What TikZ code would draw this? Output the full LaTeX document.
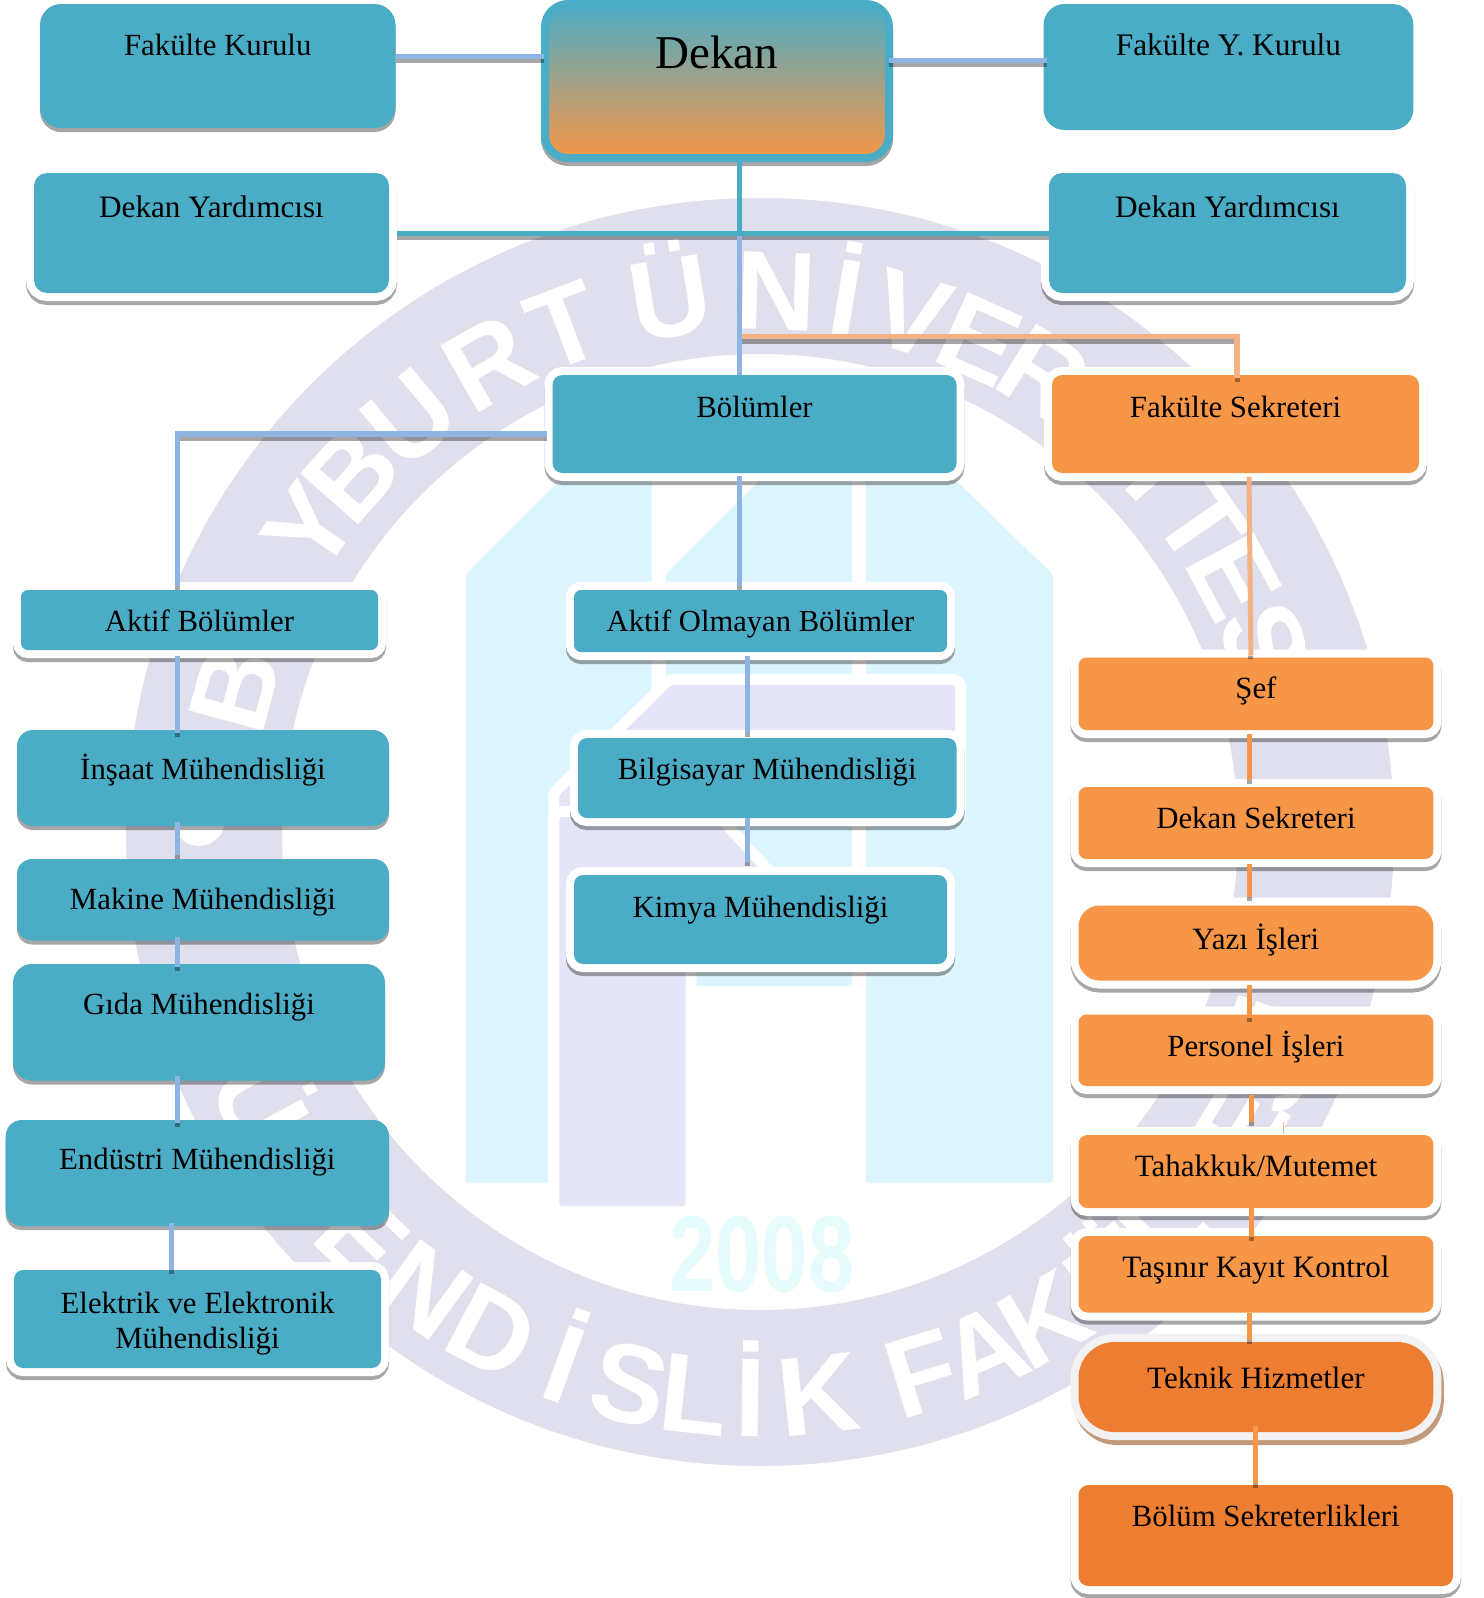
\documentclass[tikz,border=0pt]{standalone}
\usepackage{fontspec}
\usepackage{graphicx}
\setmainfont{Liberation Serif}
\newfontfamily\wmfont{Liberation Sans}[BoldFont={Liberation Sans Bold}]
\usetikzlibrary{calc}
\definecolor{tl}{HTML}{4BACC6}
\definecolor{og}{HTML}{F79646}
\definecolor{dog}{HTML}{ED7D31}
\definecolor{lnblue}{HTML}{8EB4E3}
\definecolor{lnor}{HTML}{F4B183}
\definecolor{ringc}{HTML}{E0DFEE}
\definecolor{cyanc}{HTML}{DCF5FE}
\definecolor{lavc}{HTML}{E4E5F7}
\definecolor{yearc}{HTML}{E6FBFC}
\definecolor{shbrown}{HTML}{C49A7C}
\tikzset{
  bxbase/.style={inner sep=0pt,outer sep=0pt,anchor=center,font=\fontsize{30.8}{35}\selectfont},
  plainshadow/.style={preaction={fill=black,fill opacity=.35,transform canvas={yshift=-4pt}}},
  haloshadow/.style={preaction={draw=black,draw opacity=.35,line width=16pt,transform canvas={yshift=-4pt}},preaction={draw=white,line width=16pt}},
  tealplain/.style={plainshadow,fill=tl},
  tealflat/.style={fill=tl},
  tealhalo/.style={haloshadow,fill=tl},
  orhalo/.style={haloshadow,fill=og},
  dorhalo/.style={haloshadow,fill=dog},
  teknikbox/.style={preaction={draw=shbrown,line width=16pt,transform canvas={xshift=2.5pt,yshift=-5pt}},preaction={draw=black!5,line width=16pt},fill=dog},
  dekanbox/.style={preaction={draw=black,draw opacity=.35,line width=8pt,transform canvas={yshift=-4pt}},draw=tl,line width=8pt,top color=tl,bottom color=og},
  wmletter/.style={white,font=\wmfont\bfseries\fontsize{112}{112}\selectfont,anchor=base,inner sep=0pt},
  cshadow/.style={black,opacity=.35,line width=5pt},
  cline/.style={line width=5pt}
}
\newcommand{\bx}[9]{%
  \pgfmathsetmacro\bxW{#5-#3}\pgfmathsetmacro\bxH{#6-#4}%
  \pgfmathsetmacro\bxT{#8-#4}\pgfmathsetmacro\bxD{#6-#8}%
  \pgfmathsetmacro\bxX{(#3+#5)/2}\pgfmathsetmacro\bxY{(#4+#6)/2}%
  \node[bxbase,#1,rounded corners=#7pt,minimum width=\bxW pt,minimum height=\bxH pt,text height=\bxT pt,text depth=\bxD pt] (#2) at (\bxX,\bxY) {#9};}
% colour, node A, dy at A, node B, dy at B, x
\newcommand{\vc}[6]{%
  \coordinate (cx) at (#6,0);
  \coordinate (ca) at ($(#2.south -| cx)+(0,#3)$);
  \coordinate (cb) at ($(#4.north -| cx)+(0,#5)$);
  \draw[cshadow] ($(ca)+(0,4)$) -- (cb);
  \draw[cline,#1] (ca) -- ($(cb)+(0,-4)$);}
% colour, node A, dx, dy, node B, dx, dy : horizontal link
\newcommand{\hc}[7]{%
  \coordinate (ca) at ($(#2.east)+(#3,#4)$);
  \coordinate (cb) at ($(#5.west)+(#6,#7)$);
  \draw[cshadow,line width=5.5pt] ($(ca)+(0,4.2)$) -- ($(cb)+(0,4.2)$);
  \draw[cline,line width=5.5pt,#1] (ca) -- (cb);}
\begin{document}
\begin{tikzpicture}[x=1pt,y=-1pt]
\useasboundingbox (0,0) rectangle (1483,1598);
\fill[white] (0,0) rectangle (1483,1598);
% ----- watermark: ring with lettering
\fill[ringc,even odd rule] (760,832) circle (634) circle (478);
\foreach \a/\l in {-74.6/B,-65.5/A,-55.7/Y,-48.5/B,-39.9/U,-29.7/R,-20.8/T,-9.2/Ü,2/N,9.5/İ,16.6/V,24.3/E,32/R,41/S,48/İ,55.2/T,61.8/E,69.5/S,76/İ}
  \node[wmletter,rotate=-\a] at ({757+503*sin(\a)},{833-503*cos(\a)}) {\l};
\foreach \a/\l in {-70/M,-61.5/Ü,-53/H,-44.3/E,-36/N,-27.9/D,-19.9/İ,-13/S,-6.3/L,-0.7/İ,6.2/K,17/F,23.7/A,30.6/K,39/Ü,46/L,52.5/T,59/E,65/S,70.5/İ}
  \node[wmletter,rotate=\a] at ({757+604*sin(\a)},{833+604*cos(\a)}) {\l};
\fill[white] (199,820) circle (26);
% ----- watermark: building
\fill[cyanc,rounded corners=3pt] (465.5,574.6) -- (640,400) -- (651.6,400) -- (651.6,700) -- (548,812) -- (548,1183) -- (465.5,1183) -- cycle;
\fill[cyanc,rounded corners=3pt] (665.5,574.6) -- (840,400) -- (852,400) -- (852,986) -- (665.5,986) -- cycle;
\fill[cyanc,rounded corners=3pt] (866,393) -- (1053,574.6) -- (1053,1183) -- (866,1183) -- cycle;
\fill[lavc,rounded corners=3pt,preaction={draw=white,line width=22pt}] (671.6,685) -- (955,685) -- (955,808.6) -- (559.4,808.6) -- (559.4,795) -- cycle;
\fill[lavc,rounded corners=3pt,preaction={draw=white,line width=22pt}] (559.4,817) -- (712,817) -- (765,875) -- (685.5,905) -- (685.5,1206) -- (559.4,1206) -- cycle;
\node[inner sep=0pt,text=yearc,font=\wmfont\bfseries\fontsize{108}{108}\selectfont] (year) at (762,1254) {\scalebox{.77}[1]{2008}};
% ----- boxes
\bx{tealplain}{fk}{40}{4}{395.5}{128}{21}{55}{Fakülte Kurulu}
\bx{dekanbox}{dekan}{545}{4}{889}{158}{23}{68}{\fontsize{47}{50}\selectfont Dekan}
\bx{tealflat}{fyk}{1043.5}{4}{1413.4}{130}{21}{55}{\fontsize{31.4}{35}\selectfont Fakülte Y. Kurulu}
\bx{tealhalo}{dyl}{34}{173}{389}{293}{13}{217}{\fontsize{31.2}{35}\selectfont Dekan Yardımcısı}
\bx{tealhalo}{dyr}{1049}{173}{1406}{293}{13}{217}{\fontsize{31.2}{35}\selectfont Dekan Yardımcısı}
\bx{tealhalo}{bol}{552.5}{375}{956.5}{473}{10}{417}{Bölümler}
\bx{orhalo}{fs}{1052}{375}{1419}{473}{10}{417}{Fakülte Sekreteri}
\bx{tealhalo}{ab}{21}{590}{378}{650}{7}{631}{Aktif Bölümler}
\bx{tealhalo}{ao}{574}{590}{947}{652}{7}{631}{\fontsize{30.6}{35}\selectfont Aktif Olmayan Bölümler}
\bx{tealplain}{ins}{17}{730}{389}{826}{16}{779}{İnşaat Mühendisliği}
\bx{tealplain}{mak}{17}{859}{389}{940.5}{15}{909.5}{Makine Mühendisliği}
\bx{tealplain}{gid}{13}{964}{385}{1080.5}{19}{1014}{Gıda Mühendisliği}
\bx{tealplain}{end}{5.7}{1120}{389}{1226}{16}{1169}{Endüstri Mühendisliği}
\node[bxbase,tealhalo,rounded corners=9pt,minimum width=367pt,minimum height=98pt,align=center] (ele) at (197.5,1319) {\rule{0pt}{30pt}Elektrik ve Elektronik\\Mühendisliği};
\bx{tealhalo}{bil}{578}{738}{956.5}{818}{9}{779}{Bilgisayar Mühendisliği}
\bx{tealhalo}{kim}{574}{875}{947}{964}{9}{917.7}{Kimya Mühendisliği}
\bx{orhalo}{sef}{1078.5}{657.5}{1433.3}{730}{8}{698.5}{Şef}
\bx{orhalo}{ds}{1078.5}{787}{1433.3}{859}{8}{828}{Dekan Sekreteri}
\bx{orhalo}{yaz}{1078.5}{905.5}{1433.3}{980.5}{21}{949}{\fontsize{31}{35}\selectfont Yazı İşleri}
\bx{orhalo}{per}{1078.5}{1014.5}{1433.3}{1086}{8}{1056}{Personel İşleri}
\bx{orhalo}{tah}{1078.5}{1135}{1433.3}{1208}{9}{1176}{\fontsize{31}{35}\selectfont Tahakkuk/Mutemet}
\bx{orhalo}{tas}{1078.5}{1236}{1433.3}{1312.5}{9}{1277.6}{\fontsize{31.1}{35}\selectfont Taşınır Kayıt Kontrol}
\bx{teknikbox}{tek}{1078.5}{1342}{1433.3}{1432}{36}{1388}{\fontsize{31}{35}\selectfont Teknik Hizmetler}
\bx{dorhalo}{bs}{1078.5}{1485}{1453}{1586}{10}{1526}{Bölüm Sekreterlikleri}
% ----- connectors
\hc{lnblue}{fk}{0}{-9.7}{dekan}{-1}{-24.7}
\hc{lnblue}{dekan}{-0.5}{-20.5}{fyk}{3.5}{-6.5}
\hc{tl}{dyl}{8}{0.5}{dyr}{0}{0.5}
% Dekan down to the junction, then to Bölümler
\coordinate (j1) at (739,236);
\draw[cline,tl] (dekan.south -| j1) -- (j1);
\draw[cline,lnblue] (j1) -- (bol.north -| j1);
% Orange branch
\coordinate (j2) at (742,336.7);
\coordinate (c1) at (1237,0);
\draw[cshadow,line width=5.5pt] ($(j2)+(0,4.5)$) -- ($(c1 |- j2)+(-2,4.5)$);
\draw[cshadow] ($(fs.north -| c1)+(0,0)$) -- ($(fs.north -| c1)+(0,7)$);
\draw[cline,lnor,line width=5.5pt] (j2) -- (c1 |- j2) -- ($(fs.north -| c1)+(0,2.5)$);
% Bölümler to Aktif Bölümler
\coordinate (b1) at ($(bol.west)+(-5.5,9.9)$);
\coordinate (c2) at (177,0);
\draw[cshadow,line width=5.5pt] ($(b1)+(0,4.5)$) -- ($(c2 |- b1)+(0,4.5)$);
\draw[cshadow] ($(ab.north -| c2)+(0,-4)$) -- (ab.north -| c2);
\draw[cline,lnblue,line width=5.5pt] (b1) -- (c2 |- b1);
\draw[cline,lnblue] ($(c2 |- b1)+(0,-2.7)$) -- ($(ab.north -| c2)+(0,-4)$);
\vc{lnblue}{bol}{3.4}{ao}{0}{739}
\vc{lnblue}{ab}{6}{ins}{7}{177}
\vc{lnblue}{ins}{-4}{mak}{0}{177}
\vc{lnblue}{mak}{-3.5}{gid}{7}{177}
\vc{lnblue}{gid}{-4.5}{end}{7}{177}
\vc{lnblue}{end}{-3}{ele}{4}{171}
\vc{lnblue}{ao}{3.7}{bil}{-1}{747}
\vc{lnblue}{bil}{0}{kim}{-9}{747}
% Fakülte Sekreteri to Şef (slightly slanted)
\draw[cshadow] ($(sef.north)+(-5,-2)$) -- ($(sef.north)+(-5,1.5)$);
\draw[cline,lnor] ($(fs.south)+(13.5,3.7)$) -- ($(sef.north)+(-5,-2)$);
\vc{og}{sef}{4}{ds}{-3}{1249}
\vc{og}{ds}{5}{yaz}{-4.5}{1249}
\vc{og}{yaz}{4.5}{per}{7.5}{1249}
\vc{og}{per}{8.5}{tah}{-9}{1251}
\vc{og}{tah}{0}{tas}{5}{1251}
\vc{og}{tas}{0}{tek}{2}{1249}
\vc{og}{tek}{-6}{bs}{3}{1255.5}
% faint tick above Tahakkuk/Mutemet
\coordinate (t1) at (1283.7,0);
\draw[lnor,line width=.7pt] ($(tah.north -| t1)+(0,-13)$) -- ($(tah.north -| t1)+(0,-7)$);
\draw[black!25,line width=.7pt] ($(tah.north -| t1)+(0,-7)$) -- ($(tah.north -| t1)+(0,-1)$);
\end{tikzpicture}
\end{document}
